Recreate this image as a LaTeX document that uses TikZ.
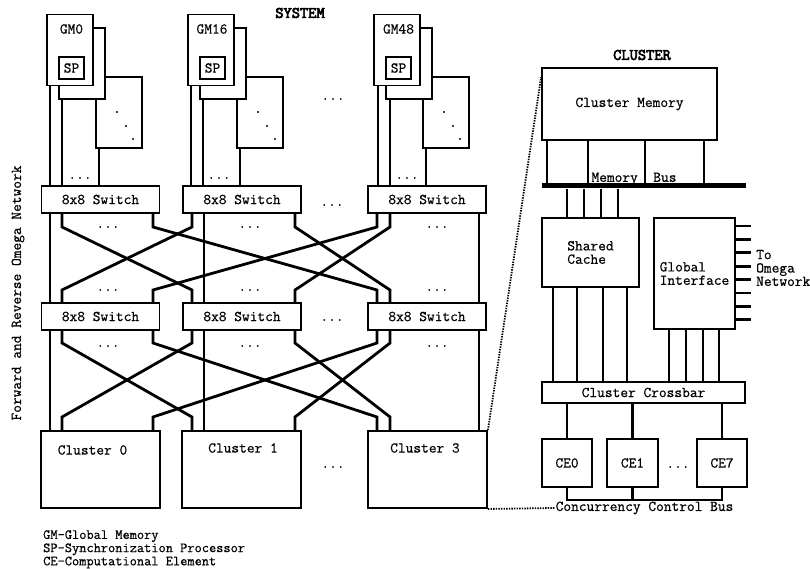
\documentclass[tikz,border=0pt]{standalone}
\usepackage{fontspec}
\setmonofont{Latin Modern Mono}[FakeBold=0.6]
\newfontfamily\titlefont{Latin Modern Mono}[FakeBold=4]
\usepackage{tikz}
\usetikzlibrary{positioning}
\tikzset{
  gmbox/.style={draw,line width=1.8pt,fill=white,minimum width=46pt,minimum height=71pt,inner sep=0pt},
  spbox/.style={draw,line width=2.4pt,minimum width=25pt,minimum height=22pt,inner sep=0pt},
  swbox/.style={draw,line width=1.8pt,fill=white,minimum width=118pt,minimum height=27pt,inner sep=0pt},
  clbox/.style={draw,line width=1.9pt,minimum width=119pt,minimum height=77pt,inner sep=0pt},
  unitbox/.style={draw,line width=1.8pt,inner sep=0pt},
  busbar/.style={fill=black,inner sep=0pt,minimum height=5pt},
  titletext/.style={font=\titlefont\fontsize{16}{16}\selectfont},
  wire/.style={line width=2.8pt},
  zoomline/.style={line width=1.8pt,dash pattern=on 1.4pt off 1.2pt}
}

\begin{document}
\begin{tikzpicture}[x=1pt,y=-1pt,font=\ttfamily\fontsize{15}{13.4}\selectfont]
  \useasboundingbox (0,0) rectangle (810,569);
  % titles
  \node[titletext] (systitle) at (300,13) {SYSTEM};
  \node[titletext] (cltitle) at (642,55) {CLUSTER};
  \node[rotate=90] (omeganet) at (18,293) {Forward and Reverse Omega Network};
  % global memories
  \node[gmbox] (gm0c) at (119,112.5) {};
  \node[gmbox] (gm0b) at (82,63.5) {};
  \node[gmbox] (gm0) at (70,50) {};
  \node[spbox] (sp0) at (71.5,68) {SP};
  \node (gm0t) at (71.5,29) {GM0};
  \node[gmbox] (gm16c) at (260,112.5) {};
  \node[gmbox] (gm16b) at (223,63.5) {};
  \node[gmbox] (gm16) at (211,50) {};
  \node[spbox] (sp16) at (212.5,68) {SP};
  \node (gm16t) at (212,29) {GM16};
  \node[gmbox] (gm48c) at (446,112.5) {};
  \node[gmbox] (gm48b) at (409,63.5) {};
  \node[gmbox] (gm48) at (397,50) {};
  \node[spbox] (sp48) at (398.5,68) {SP};
  \node (gm48t) at (398.5,29) {GM48};
  \fill (117,112) circle (1.2pt) (126,126) circle (1.2pt) (133,139) circle (1.2pt);
  \fill (258,112) circle (1.2pt) (267,126) circle (1.2pt) (275,139) circle (1.2pt);
  \fill (444,112) circle (1.2pt) (453,126) circle (1.2pt) (460,139) circle (1.2pt);
  \node (gmdots) at (333,99) {...};
  \node (gm0dots) at (80,178) {...};
  \node (gm16dots) at (219,178) {...};
  \node (gm48dots) at (407,178) {...};
  % switches
  \node[swbox] (sw1a) at (100.5,199.5) {8x8 Switch};
  \node[swbox] (sw1b) at (242,199.5) {8x8 Switch};
  \node[swbox] (sw1c) at (427,199.5) {8x8 Switch};
  \node[swbox] (sw2a) at (100.5,316.5) {8x8 Switch};
  \node[swbox] (sw2b) at (242,316.5) {8x8 Switch};
  \node[swbox] (sw2c) at (427,316.5) {8x8 Switch};
  \node (sw1dots) at (332,205) {...};
  \node (sw2dots) at (332,320) {...};
  % clusters
  \node[clbox] (cl0) at (100.5,469.5) {};
  \node[clbox] (cl1) at (241.5,469.5) {};
  \node[clbox] (cl3) at (427.5,469.5) {};
  \node (cl0t) at (92.5,450) {Cluster 0};
  \node (cl1t) at (243,448) {Cluster 1};
  \node (cl3t) at (425,448) {Cluster 3};
  \node (cldots) at (333,467) {...};
  % dots between the stages
  \node (s1dotsa) at (108,227) {...};
  \node (s1dotsb) at (250,227) {...};
  \node (s1dotsc) at (437,227) {...};
  \node (s2dotsa) at (108,290) {...};
  \node (s2dotsb) at (250,290) {...};
  \node (s2dotsc) at (437,290) {...};
  \node (s3dotsa) at (108,346) {...};
  \node (s3dotsb) at (250,346) {...};
  \node (s3dotsc) at (437,346) {...};
  % memories to first stage
  \draw[wire] (gm0.south -| 50,0) -- (sw1a.north -| 50,0);
  \draw[wire] (gm0b.south -| 62,0) -- (sw1a.north -| 62,0);
  \draw[wire] (gm0c.south -| 99,0) -- (sw1a.north -| 99,0);
  \draw[wire] (gm16.south -| 191,0) -- (sw1b.north -| 191,0);
  \draw[wire] (gm16b.south -| 203,0) -- (sw1b.north -| 203,0);
  \draw[wire] (gm16c.south -| 240,0) -- (sw1b.north -| 240,0);
  \draw[wire] (gm48.south -| 378,0) -- (sw1c.north -| 378,0);
  \draw[wire] (gm48b.south -| 390,0) -- (sw1c.north -| 390,0);
  \draw[wire] (gm48c.south -| 426,0) -- (sw1c.north -| 426,0);
  % first stage to second stage
  \draw[wire] (sw1a.south -| 50,0) -- (sw2a.north -| 50,0);
  \draw[wire] (sw1b.south -| 204,0) -- (sw2b.north -| 204,0);
  \draw[wire] (sw1c.south -| 479,0) -- (sw2c.north -| 479,0);
  \draw[wire] (sw1a.south -| 62,0) -- (62,227) -- (192,290) -- (sw2b.north -| 192,0);
  \draw[wire] (sw1a.south -| 153,0) -- (153,227) -- (377,290) -- (sw2c.north -| 377,0);
  \draw[wire] (sw1b.south -| 192,0) -- (192,227) -- (62,290) -- (sw2a.north -| 62,0);
  \draw[wire] (sw1b.south -| 295,0) -- (295,227) -- (390,290) -- (sw2c.north -| 390,0);
  \draw[wire] (sw1c.south -| 377,0) -- (377,227) -- (153,290) -- (sw2a.north -| 153,0);
  \draw[wire] (sw1c.south -| 390,0) -- (390,227) -- (295,290) -- (sw2b.north -| 295,0);
  % second stage to clusters
  \draw[wire] (sw2a.south -| 50,0) -- (cl0.north -| 50,0);
  \draw[wire] (sw2b.south -| 204,0) -- (cl1.north -| 204,0);
  \draw[wire] (sw2c.south -| 479,0) -- (cl3.north -| 479,0);
  \draw[wire] (sw2a.south -| 62,0) -- (62,343) -- (192,417) -- (cl1.north -| 192,0);
  \draw[wire] (sw2a.south -| 153,0) -- (153,343) -- (377,417) -- (cl3.north -| 377,0);
  \draw[wire] (sw2b.south -| 192,0) -- (192,343) -- (62,417) -- (cl0.north -| 62,0);
  \draw[wire] (sw2b.south -| 295,0) -- (295,343) -- (390,417) -- (cl3.north -| 390,0);
  \draw[wire] (sw2c.south -| 377,0) -- (377,343) -- (153,417) -- (cl0.north -| 153,0);
  \draw[wire] (sw2c.south -| 390,0) -- (390,343) -- (295,417) -- (cl1.north -| 295,0);
  % cluster detail
  \node[unitbox,minimum width=175pt,minimum height=72pt] (cmem) at (629.5,104) {Cluster Memory};
  \node (mbustext) at (634,179) {Memory\ \ Bus};
  \node[busbar,minimum width=204pt] (mbus) at (644,186) {};
  \node[unitbox,minimum width=97pt,minimum height=69pt,align=left] (cache) at (590.5,252.5) {Shared\\Cache};
  \node[unitbox,minimum width=81pt,minimum height=111pt,align=left] (gi) at (694.5,273.5) {Global\\Interface};
  \node[anchor=west,align=left,inner sep=0pt] (omegatext) at (756,268) {To\\Omega\\Network};
  \node[unitbox,minimum width=203pt,minimum height=21pt] (xbar) at (643.5,392.5) {Cluster Crossbar};
  \node[unitbox,minimum width=50pt,minimum height=48pt] (ce0) at (567,463) {CE0};
  \node[unitbox,minimum width=51pt,minimum height=48pt] (ce1) at (632.5,463) {CE1};
  \node[unitbox,minimum width=50pt,minimum height=48pt] (ce7) at (722,463) {CE7};
  \node (cedots) at (678,467) {...};
  \node[inner sep=1pt] (ccbus) at (644.5,508) {Concurrency Control Bus};
  \draw[wire] (cmem.south -| 547,0) -- (mbus.north -| 547,0) (cmem.south -| 588,0) -- (mbus.north -| 588,0)
    (cmem.south -| 645,0) -- (mbus.north -| 645,0) (cmem.south -| 704,0) -- (mbus.north -| 704,0);
  \draw[wire] (mbus.south -| 567,0) -- (cache.north -| 567,0) (mbus.south -| 584,0) -- (cache.north -| 584,0)
    (mbus.south -| 601,0) -- (cache.north -| 601,0) (mbus.south -| 618,0) -- (cache.north -| 618,0);
  \draw[wire] (gi.east |- 0,226) -- ++(15,0) (gi.east |- 0,239.4) -- ++(15,0) (gi.east |- 0,252.8) -- ++(15,0)
    (gi.east |- 0,266.2) -- ++(15,0) (gi.east |- 0,279.6) -- ++(15,0) (gi.east |- 0,293) -- ++(15,0)
    (gi.east |- 0,306.4) -- ++(15,0) (gi.east |- 0,319.8) -- ++(15,0);
  \draw[wire] (cache.south -| 553,0) -- (xbar.north -| 553,0) (cache.south -| 577,0) -- (xbar.north -| 577,0)
    (cache.south -| 603,0) -- (xbar.north -| 603,0) (cache.south -| 627,0) -- (xbar.north -| 627,0);
  \draw[wire] (gi.south -| 669,0) -- (xbar.north -| 669,0) (gi.south -| 686,0) -- (xbar.north -| 686,0)
    (gi.south -| 703,0) -- (xbar.north -| 703,0) (gi.south -| 719,0) -- (xbar.north -| 719,0);
  \draw[wire] (xbar.south -| ce0) -- (ce0.north) (xbar.south -| ce1) -- (ce1.north) (xbar.south -| ce7) -- (ce7.north);
  \draw[wire] (ce0.south) -- ++(0,12) -| (ce7.south) (ce1.south) -- ++(0,12);
  \draw[zoomline] (cl3.north east) -- ([yshift=-10pt]cmem.north west);
  \draw[zoomline] (cl3.south east) -- (ccbus.west);
  % legend
  \node[anchor=north west,align=left,inner sep=0pt,font=\ttfamily\fontsize{14}{13.2}\selectfont] (legend) at (43,530)
    {GM-Global Memory\\SP-Synchronization Processor\\CE-Computational Element};
\end{tikzpicture}
\end{document}
